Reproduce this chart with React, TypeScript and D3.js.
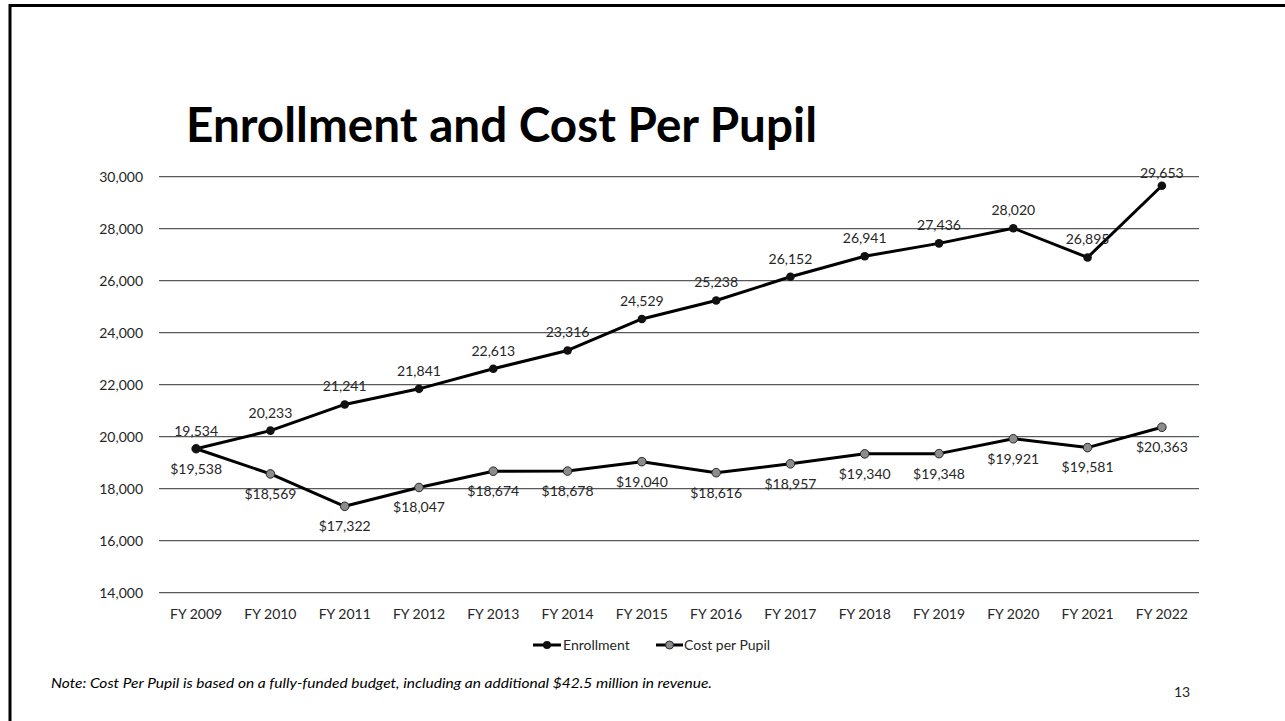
import React from "react";
import * as d3 from "d3";

const categories = [
  "FY 2009", "FY 2010", "FY 2011", "FY 2012", "FY 2013", "FY 2014", "FY 2015",
  "FY 2016", "FY 2017", "FY 2018", "FY 2019", "FY 2020", "FY 2021", "FY 2022",
];
const enrollment = [
  19534, 20233, 21241, 21841, 22613, 23316, 24529, 25238, 26152, 26941, 27436,
  28020, 26895, 29653,
];
const costPerPupil = [
  19538, 18569, 17322, 18047, 18674, 18678, 19040, 18616, 18957, 19340, 19348,
  19921, 19581, 20363,
];
const yTicks = [14000, 16000, 18000, 20000, 22000, 24000, 26000, 28000, 30000];

const W = 1285;
const H = 721;
const font = "Lato, 'Liberation Sans', sans-serif";
const fs = 14;

const App: React.FC = () => {
  const plot = { left: 159, right: 1199, top: 176.7, bottom: 592.7 };

  const x = d3
    .scalePoint<string>()
    .domain(categories)
    .range([plot.left, plot.right])
    .padding(0.5);
  const y = d3.scaleLinear().domain([14000, 30000]).range([plot.bottom, plot.top]);

  const line = d3
    .line<number>()
    .x((_, i) => x(categories[i]) ?? 0)
    .y((d) => y(d));

  const fmt = d3.format(",");

  return (
    <div style={{ position: "absolute", left: 0, top: 0 }}>
      <svg width={W} height={H} style={{ display: "block", fontFamily: font }}>
        <rect width={W} height={H} fill="#fff" />
        {/* slide frame */}
        <line x1={10} x2={W} y1={5.5} y2={5.5} stroke="#000" strokeWidth={3} />
        <line x1={10} x2={10} y1={4} y2={H} stroke="#000" strokeWidth={3} />

        <text
          x={186}
          y={142}
          fontSize={47}
          fontWeight={700}
          fill="#000"
          textLength={631}
          lengthAdjust="spacingAndGlyphs"
        >
          Enrollment and Cost Per Pupil
        </text>

        {/* gridlines and y axis */}
        {yTicks.map((t) => (
          <g key={t}>
            <line
              x1={plot.left}
              x2={plot.right}
              y1={y(t)}
              y2={y(t)}
              stroke="#595959"
              strokeWidth={1.2}
            />
            <text
              x={143}
              y={y(t)}
              dy="0.35em"
              textAnchor="end"
              fontSize={fs}
              fill="#262626"
            >
              {fmt(t)}
            </text>
          </g>
        ))}

        {/* x axis labels */}
        {categories.map((c) => (
          <text
            key={c}
            x={x(c)}
            y={614}
            dy="0.35em"
            textAnchor="middle"
            fontSize={fs}
            fill="#262626"
          >
            {c}
          </text>
        ))}

        {/* series */}
        <path d={line(enrollment) ?? ""} fill="none" stroke="#000" strokeWidth={3} strokeLinejoin="round" />
        <path d={line(costPerPupil) ?? ""} fill="none" stroke="#000" strokeWidth={3} strokeLinejoin="round" />

        {costPerPupil.map((v, i) => (
          <circle
            key={"c" + i}
            cx={x(categories[i])}
            cy={y(v)}
            r={4.3}
            fill="#8c8c8c"
            stroke="#262626"
            strokeWidth={1}
          />
        ))}
        {enrollment.map((v, i) => (
          <circle key={"e" + i} cx={x(categories[i])} cy={y(v)} r={4.3} fill="#111" />
        ))}

        {/* data labels */}
        {enrollment.map((v, i) => (
          <text
            key={"el" + i}
            x={x(categories[i])}
            y={Math.max(y(v) - 18, plot.top - 4)}
            dy="0.35em"
            textAnchor="middle"
            fontSize={fs}
            fill="#262626"
          >
            {fmt(v)}
          </text>
        ))}
        {costPerPupil.map((v, i) => (
          <text
            key={"cl" + i}
            x={x(categories[i])}
            y={y(v) + 20}
            dy="0.35em"
            textAnchor="middle"
            fontSize={fs}
            fill="#262626"
          >
            {"$" + fmt(v)}
          </text>
        ))}

        {/* legend */}
        <g fontSize={fs} fill="#262626">
          <line x1={533} x2={561} y1={645} y2={645} stroke="#000" strokeWidth={3} />
          <circle cx={547} cy={645} r={4} fill="#111" />
          <text x={563} y={645} dy="0.35em">Enrollment</text>
          <line x1={656} x2={683} y1={645} y2={645} stroke="#000" strokeWidth={3} />
          <circle cx={669.5} cy={645} r={4} fill="#8c8c8c" stroke="#262626" strokeWidth={1} />
          <text x={684} y={645} dy="0.35em">Cost per Pupil</text>
        </g>

        <text
          x={51}
          y={683}
          dy="0.35em"
          fontSize={13}
          fontStyle="italic"
          fill="#000"
          textLength={661}
          lengthAdjust="spacingAndGlyphs"
        >
          Note: Cost Per Pupil is based on a fully-funded budget, including an additional $42.5 million in revenue.
        </text>

        <text x={1182} y={692} dy="0.35em" textAnchor="middle" fontSize={fs} fill="#262626">
          13
        </text>
      </svg>
    </div>
  );
};

export default App;
